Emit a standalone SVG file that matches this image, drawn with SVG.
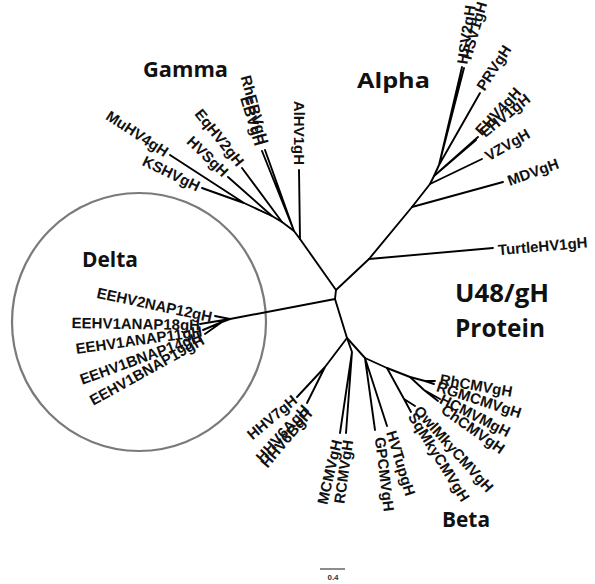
<svg xmlns="http://www.w3.org/2000/svg" width="595" height="584" viewBox="0 0 595 584">
<style>
.br{stroke:#000;stroke-width:1.9;fill:none;stroke-linecap:round;stroke-linejoin:round}
.lb{font-family:"Liberation Sans",Arial,sans-serif;font-weight:bold;font-size:15px;fill:#111}
.s{text-anchor:start}
.e{text-anchor:end}
.hd{font-family:"Open Sans","Liberation Sans",sans-serif;font-weight:bold;fill:#111}
</style>
<rect width="595" height="584" fill="#fff"/>
<g id="delta-circle"><ellipse cx="139" cy="322" rx="127" ry="129" fill="none" stroke="#7a7a7a" stroke-width="2.2"/></g>
<g id="connectors" class="br">
<path d="M300,239 L336,290 L369,259 L412,207"/>
<path d="M336,290 L335,299 L347,338"/>
<path d="M335,299 L230,319"/>
<path d="M300,239 L299,170"/>
<path d="M300,239 L294,231 L265,150 M294,231 L262,151"/>
<path d="M294,231 L282,222 L242,168"/>
<path d="M282,222 L272,216 L228,177"/>
<path d="M272,216 L244,203 L170,155 M244,203 L202,188"/>
<path d="M412,207 L503,182"/>
<path d="M412,207 L430,184 L482,159"/>
<path d="M430,184 L434,176 L478,137 M434,176 L476,140"/>
<path d="M434,176 L439,165 L480,93 M439,165 L462,67 M439,165 L464,68"/>
<path d="M369,259 L493,248"/>
<path d="M230,319 L215,316 M230,319 L200,324 M230,319 L222,322 L203,330 M222,322 L205,334"/>
<path d="M347,338 L325,367 L297,397 M325,367 L307,403"/>
<path d="M347,338 L352,352 L340,433 M352,352 L346,433"/>
<path d="M347,338 L365,358 L375,430 M365,358 L387,426"/>
<path d="M365,358 L387,368 L404,399 L415,406 M404,399 L411,412"/>
<path d="M387,368 L410,377 L425,381 L435,381 M425,381 L434,384"/>
<path d="M410,377 L424,390 L440,399 M424,390 L438,401"/>
</g>
<g id="labels" class="lb">
<g id="n-turtle"><text class="s" dy=".35em" transform="translate(498,250) rotate(-5)">TurtleHV1gH</text></g>
<g id="n-mdv"><text class="s" dy=".35em" transform="translate(508,181) rotate(-20)">MDVgH</text></g>
<g id="n-vzv"><text class="s" dy=".35em" transform="translate(486,157) rotate(-30)">VZVgH</text></g>
<g id="n-ehv4"><text class="s" dy=".35em" transform="translate(478,133) rotate(-47)">EHV4gH</text></g>
<g id="n-ehv1"><text class="s" dy=".35em" transform="translate(482,134) rotate(-39)">EHV1gH</text></g>
<g id="n-prv"><text class="s" dy=".35em" transform="translate(480,89) rotate(-57)">PRVgH</text></g>
<g id="n-hsv2"><text class="s" dy=".35em" transform="translate(462,64) rotate(-82)">HSV2gH</text></g>
<g id="n-hsv1"><text class="s" dy=".35em" transform="translate(466,59) rotate(-74)">HSV1gH</text></g>
<g id="n-rhcmv"><text class="s" dy=".35em" transform="translate(440,379) rotate(10)">RhCMVgH</text></g>
<g id="n-rgmcmv"><text class="s" dy=".35em" transform="translate(437,386) rotate(18)">RGMCMVgH</text></g>
<g id="n-hcmv"><text class="s" dy=".35em" transform="translate(441,398) rotate(27)">HCMVMgH</text></g>
<g id="n-chcmv"><text class="s" dy=".35em" transform="translate(443,408) rotate(35)">ChCMVgH</text></g>
<g id="n-owl"><text class="s" dy=".35em" transform="translate(417,408) rotate(48)">OwlMkyCMVgH</text></g>
<g id="n-sq"><text class="s" dy=".35em" transform="translate(412,414) rotate(58)">SqMkyCMVgH</text></g>
<g id="n-hvtup"><text class="s" dy=".35em" transform="translate(391,431) rotate(73)">HVTupgH</text></g>
<g id="n-gpcmv"><text class="s" dy=".35em" transform="translate(380,437) rotate(83)">GPCMVgH</text></g>
<g id="n-rcmv"><text class="e" dy=".35em" transform="translate(348,440) rotate(-82)">RCMVgH</text></g>
<g id="n-mcmv"><text class="e" dy=".35em" transform="translate(337,440) rotate(-77)">MCMVgH</text></g>
<g id="n-hhv6b"><text class="e" dy=".35em" transform="translate(309,411) rotate(-50)">HHV6BgH</text></g>
<g id="n-hhv6a"><text class="e" dy=".35em" transform="translate(306,407) rotate(-48)">HHV6AgH</text></g>
<g id="n-hhv7"><text class="e" dy=".35em" transform="translate(295,398) rotate(-40)">HHV7gH</text></g>
<g id="n-eehv1b19"><text class="e" dy=".35em" transform="translate(203,339) rotate(-29)">EEHV1BNAP19gH</text></g>
<g id="n-eehv1b14"><text class="e" dy=".35em" transform="translate(201,336) rotate(-20)">EEHV1BNAP14gH</text></g>
<g id="n-eehv1a11"><text class="e" dy=".35em" transform="translate(202,331) rotate(-8)">EEHV1ANAP11gH</text></g>
<g id="n-eehv1a18"><text class="e" dy=".35em" transform="translate(200,325) rotate(1)">EEHV1ANAP18gH</text></g>
<g id="n-eehv2"><text class="e" dy=".35em" transform="translate(212,317) rotate(12)">EEHV2NAP12gH</text></g>
<g id="n-kshv"><text class="e" dy=".35em" transform="translate(199,187) rotate(26)">KSHVgH</text></g>
<g id="n-muhv4"><text class="e" dy=".35em" transform="translate(167,153) rotate(33)">MuHV4gH</text></g>
<g id="n-hvs"><text class="e" dy=".35em" transform="translate(226,174) rotate(44)">HVSgH</text></g>
<g id="n-eqhv2"><text class="e" dy=".35em" transform="translate(241,164) rotate(51)">EqHV2gH</text></g>
<g id="n-rhebv"><text class="e" dy=".35em" transform="translate(264,144) rotate(75)">RhEBVgH</text></g>
<g id="n-ebv"><text class="e" dy=".35em" transform="translate(260,145) rotate(73)">EBVgH</text></g>
<g id="n-alhv1"><text class="e" dy=".35em" transform="translate(299,165) rotate(90)">AlHV1gH</text></g>
</g>
<g id="headings" class="hd">
<text x="143" y="77" font-size="21" textLength="85" lengthAdjust="spacingAndGlyphs">Gamma</text>
<text x="357" y="88" font-size="21" textLength="73" lengthAdjust="spacingAndGlyphs">Alpha</text>
<text x="82" y="267" font-size="21" textLength="56" lengthAdjust="spacingAndGlyphs">Delta</text>
<text x="455" y="302" font-size="25" textLength="94" lengthAdjust="spacingAndGlyphs">U48/gH</text>
<text x="455" y="337" font-size="25" textLength="90" lengthAdjust="spacingAndGlyphs">Protein</text>
<text x="442" y="527" font-size="21" textLength="48" lengthAdjust="spacingAndGlyphs">Beta</text>
</g>
<g id="scale-bar">
<line x1="320" y1="569" x2="345" y2="569" stroke="#666" stroke-width="1.5"/>
<text x="333" y="580" text-anchor="middle" font-family="Liberation Sans,sans-serif" font-weight="bold" font-size="8" fill="#333">0.4</text>
</g>
</svg>
